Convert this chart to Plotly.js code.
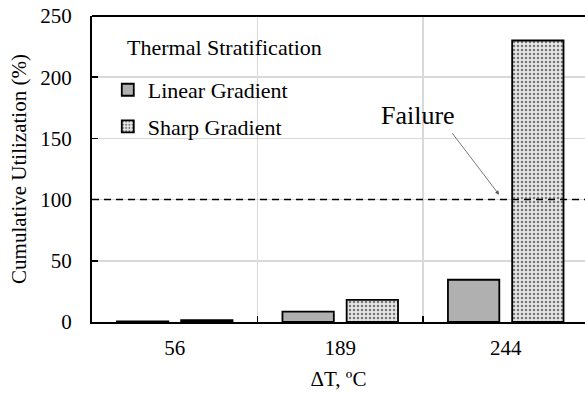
<!DOCTYPE html>
<html><head><meta charset="utf-8">
<script src="https://cdn.plot.ly/plotly-3.0.1.min.js"></script>
<style>
html,body{margin:0;padding:0;background:#fff}
#chart{width:585px;height:393px}
</style>
</head><body><div id="chart"></div>
<script>
const categories = ['56', '189', '244'];
const linearGradient = [0.5, 8.5, 34.5];
const sharpGradient = [1.5, 18, 230];
const failureLevel = 100;
const yTicks = [0, 50, 100, 150, 200, 250];

const FONT = 'Liberation Serif';
const traces = [
  {type:'bar', name:'Linear Gradient', x:categories, y:linearGradient, legendgroup:'a',
   marker:{color:'#b0b0b0', line:{color:'#000', width:1.8}}},
  {type:'bar', name:'Sharp Gradient', x:categories, y:sharpGradient, legendgroup:'b',
   marker:{color:'#d8d8d8', line:{color:'#000', width:1.8},
     pattern:{shape:'.', fgcolor:'#777', bgcolor:'#e6e6e6', size:4, solidity:0.3}}}
];
const layout = {
  width:585, height:393,
  margin:{l:92, r:0, t:16, b:71},
  paper_bgcolor:'#fff', plot_bgcolor:'#fff',
  font:{family:FONT, size:20, color:'#000'},
  barmode:'group', bargap:0.224, bargroupgap:0.2,
  showlegend:true,
  legend:{x:0.032, y:0.827, xanchor:'left', yanchor:'top', bgcolor:'rgba(0,0,0,0)',
    font:{family:FONT, size:22, color:'#000'}, traceorder:'grouped', tracegroupgap:5},
  xaxis:{type:'category', range:[-0.5, 2.479], tickson:'boundaries',
    showgrid:true, gridcolor:'#d9d9d9', gridwidth:1.5,
    ticks:'inside', ticklen:6, tickwidth:1.5, tickcolor:'#000',
    showline:true, linecolor:'#000', linewidth:2,
    tickfont:{family:FONT, size:21, color:'#000'}, ticklabelstandoff:6,
    title:{text:'ΔT, ºC', font:{family:FONT, size:21, color:'#000'}, standoff:12}},
  yaxis:{range:[0,250], tickvals:yTicks, showgrid:true, gridcolor:'#d9d9d9', gridwidth:1.5,
    zeroline:false, ticks:'inside', ticklen:6, tickwidth:1.5, tickcolor:'#000',
    showline:true, linecolor:'#000', linewidth:2, tickfont:{family:FONT, size:21, color:'#000'}, ticklabelstandoff:14,
    title:{text:'Cumulative Utilization (%)', font:{family:FONT, size:21, color:'#000'}, standoff:8}},
  shapes:[
    {type:'line', xref:'paper', yref:'paper', x0:0, x1:1, y0:1, y1:1, line:{color:'#000', width:2}},
    {type:'line', xref:'paper', yref:'y', x0:0, x1:1, y0:failureLevel, y1:failureLevel,
     line:{color:'#000', width:1.5, dash:'7px,5px'}}
  ],
  annotations:[
    {xref:'paper', yref:'paper', x:0.067, y:0.898, xanchor:'left', yanchor:'middle',
     text:'Thermal Stratification', showarrow:false, font:{family:FONT, size:22, color:'#000'}},
    {xref:'x', yref:'y', x:1.47, y:169, text:'Failure', showarrow:false, font:{family:FONT, size:26, color:'#000'}},
    {xref:'x', yref:'y', x:1.96, y:104, ax:-48, ay:-63, text:'', showarrow:true,
     arrowhead:2, arrowsize:1, arrowwidth:0.8, arrowcolor:'#555'}
  ]
};
Plotly.newPlot('chart', traces, layout, {displayModeBar:false, staticPlot:true});
</script></body></html>
